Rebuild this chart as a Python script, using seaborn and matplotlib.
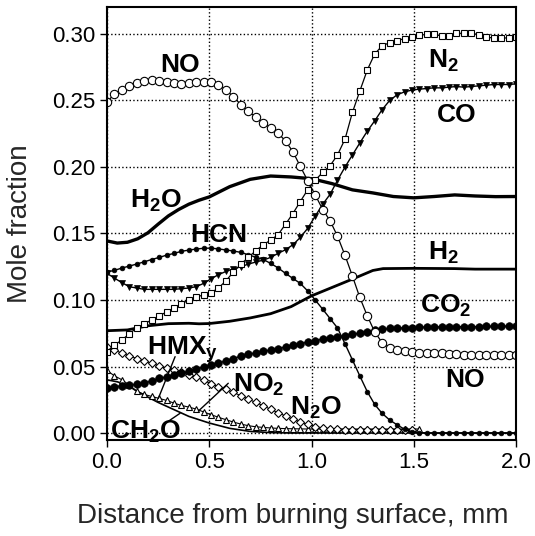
import matplotlib
matplotlib.use("Agg")
import matplotlib.pyplot as plt
import seaborn as sns

# distance from the burning surface, mm (marker positions)
distance = [0.000, 0.036, 0.073, 0.109, 0.145, 0.182, 0.218, 0.255, 0.291, 0.327,
            0.364, 0.400, 0.436, 0.473, 0.509, 0.545, 0.582, 0.618, 0.655, 0.691,
            0.727, 0.764, 0.800, 0.836, 0.873, 0.909, 0.945, 0.982, 1.018, 1.055,
            1.091, 1.127, 1.164, 1.200, 1.236, 1.273, 1.309, 1.345, 1.382, 1.418,
            1.455, 1.491, 1.527, 1.564, 1.600, 1.636, 1.673, 1.709, 1.745, 1.782,
            1.818, 1.855, 1.891, 1.927, 1.964, 2.000]

no = [0.249, 0.2547, 0.258, 0.261, 0.263, 0.2647, 0.2652, 0.265, 0.2642, 0.263,
      0.2622, 0.263, 0.2637, 0.264, 0.264, 0.2618, 0.258, 0.2528, 0.2468, 0.242,
      0.2375, 0.2333, 0.2295, 0.2255, 0.2195, 0.2115, 0.2005, 0.1895, 0.179, 0.168,
      0.1595, 0.148, 0.1335, 0.118, 0.102, 0.088, 0.076, 0.068, 0.064, 0.0625,
      0.0615, 0.061, 0.0605, 0.060, 0.060, 0.0598, 0.0595, 0.0592, 0.059, 0.059,
      0.0588, 0.0588, 0.0587, 0.0586, 0.0586, 0.0586]

n2 = [0.061, 0.066, 0.070, 0.0745, 0.079, 0.082, 0.085, 0.088, 0.091, 0.094,
      0.097, 0.100, 0.102, 0.104, 0.1055, 0.109, 0.1145, 0.121, 0.127, 0.132,
      0.137, 0.1415, 0.145, 0.149, 0.157, 0.165, 0.174, 0.183, 0.190, 0.196,
      0.201, 0.209, 0.221, 0.241, 0.257, 0.273, 0.285, 0.291, 0.2935, 0.295,
      0.2965, 0.298, 0.299, 0.2997, 0.2997, 0.2985, 0.2985, 0.3005, 0.3005, 0.3005,
      0.2995, 0.2975, 0.297, 0.297, 0.297, 0.2975]

co = [0.120, 0.1165, 0.113, 0.110, 0.109, 0.108, 0.108, 0.108, 0.108, 0.108,
      0.1085, 0.109, 0.110, 0.1125, 0.116, 0.119, 0.1215, 0.1235, 0.125, 0.127,
      0.1285, 0.130, 0.132, 0.135, 0.1378, 0.1415, 0.147, 0.154, 0.163, 0.172,
      0.1795, 0.190, 0.200, 0.209, 0.218, 0.227, 0.2347, 0.243, 0.250, 0.2542,
      0.2565, 0.2578, 0.2585, 0.259, 0.2595, 0.2595, 0.260, 0.2605, 0.260, 0.2605,
      0.261, 0.2615, 0.262, 0.262, 0.262, 0.2625]

hcn = [0.121, 0.1223, 0.124, 0.1255, 0.127, 0.1287, 0.1304, 0.132, 0.1337, 0.135,
       0.1366, 0.1375, 0.1383, 0.1389, 0.139, 0.1384, 0.1376, 0.1368, 0.1358, 0.134,
       0.1322, 0.1305, 0.1275, 0.1242, 0.120, 0.1162, 0.1125, 0.1067, 0.100, 0.093,
       0.086, 0.079, 0.067, 0.055, 0.043, 0.031, 0.0215, 0.0148, 0.0098, 0.0062,
       0.0028, 0.001, 0.0003, 0.0, 0.0, 0.0, 0.0, 0.0, 0.0, 0.0,
       0.0, 0.0, 0.0, 0.0, 0.0, 0.0]

co2 = [0.0336, 0.0347, 0.0356, 0.0361, 0.0366, 0.0377, 0.039, 0.041, 0.0422, 0.0435,
       0.045, 0.0465, 0.048, 0.0497, 0.051, 0.0525, 0.0543, 0.056, 0.0578, 0.0591,
       0.0603, 0.0615, 0.0624, 0.0633, 0.0647, 0.0661, 0.0672, 0.0683, 0.0695, 0.0706,
       0.0716, 0.0722, 0.0729, 0.0741, 0.0752, 0.0763, 0.0773, 0.0779, 0.0786, 0.0789,
       0.0791, 0.0793, 0.0795, 0.0796, 0.0797, 0.0798, 0.0798, 0.0799, 0.080, 0.080,
       0.080, 0.0801, 0.0801, 0.0802, 0.0802, 0.0802]

# open diamonds (first 42 positions)
n2o = [0.065, 0.0624, 0.060, 0.058, 0.056, 0.0543, 0.0524, 0.0505, 0.049, 0.0473,
       0.0455, 0.0437, 0.0418, 0.0396, 0.037, 0.0348, 0.0328, 0.0305, 0.028, 0.0255,
       0.023, 0.0205, 0.0178, 0.0153, 0.0128, 0.0104, 0.0083, 0.0064, 0.0048, 0.0038,
       0.0032, 0.0028, 0.0026, 0.0025, 0.0025, 0.0025, 0.0025, 0.0025, 0.0025, 0.0025,
       0.0025, 0.0025]

# open triangles (first 43 positions)
no2 = [0.047, 0.043, 0.040, 0.036, 0.0315, 0.029, 0.0275, 0.026, 0.0245, 0.0225,
       0.0207, 0.0195, 0.018, 0.0158, 0.0138, 0.0118, 0.010, 0.0082, 0.0067, 0.0055,
       0.0047, 0.0042, 0.0038, 0.0035, 0.0033, 0.0032, 0.0031, 0.003, 0.003, 0.003,
       0.003, 0.003, 0.003, 0.003, 0.003, 0.003, 0.003, 0.003, 0.003, 0.003,
       0.003, 0.003, 0.003]

# plain lines
h2o_x = [0.0, 0.05, 0.1, 0.15, 0.2, 0.25, 0.3, 0.35, 0.4, 0.45, 0.5, 0.6, 0.7,
         0.8, 0.9, 1.0, 1.1, 1.2, 1.3, 1.4, 1.5, 1.6, 1.7, 1.8, 1.9, 2.0]
h2o = [0.1444, 0.1428, 0.1434, 0.146, 0.1505, 0.157, 0.1632, 0.168, 0.172, 0.175,
       0.1775, 0.1852, 0.1907, 0.1932, 0.1925, 0.1912, 0.1875, 0.1828, 0.1805, 0.1778,
       0.1768, 0.1778, 0.179, 0.1782, 0.1777, 0.1778]

h2_x = [0.0, 0.1, 0.2, 0.3, 0.4, 0.45, 0.5, 0.6, 0.7, 0.8, 0.9, 1.0, 1.1, 1.2,
        1.3, 1.35, 1.5, 1.7, 1.8, 2.0]
h2 = [0.0769, 0.0775, 0.0806, 0.0822, 0.0825, 0.0821, 0.0823, 0.084, 0.0865, 0.0897,
      0.0950, 0.1031, 0.1094, 0.1157, 0.1222, 0.1236, 0.1238, 0.1236, 0.1232, 0.1232]

ch2o_x = [0.0, 0.05, 0.1, 0.15, 0.2, 0.25, 0.3, 0.35, 0.4, 0.5, 0.6, 0.7, 0.8,
          0.9, 1.0, 1.5, 2.0]
ch2o = [0.040, 0.0385, 0.036, 0.031, 0.027, 0.023, 0.0195, 0.016, 0.0125, 0.0075,
        0.0035, 0.0012, 0.0003, 0.0, 0.0, 0.0, 0.0]

sns.set_style("white")
plt.rcParams["font.family"] = ["Liberation Sans", "DejaVu Sans"]
plt.rcParams["mathtext.fontset"] = "custom"
plt.rcParams["mathtext.rm"] = "Liberation Sans:bold"
plt.rcParams["mathtext.default"] = "rm"

fig = plt.figure(figsize=(5.35, 5.36), dpi=100)
ax = fig.add_axes([0.2, 0.179, 0.7645, 0.808])


def curve(x, y, **kw):
    sns.lineplot(x=x, y=y, ax=ax, color="black", sort=False, estimator=None,
                 legend=False, **kw)


curve(h2o_x, h2o, linewidth=2.4)
curve(h2_x, h2, linewidth=2.0)
curve(ch2o_x, ch2o, linewidth=1.2)
curve(distance[:43], no2, linewidth=0.8, marker="^", markersize=5,
      markerfacecolor="white", markeredgecolor="black", markeredgewidth=0.8)
curve(distance[:42], n2o, linewidth=0.8, marker="D", markersize=4.3,
      markerfacecolor="white", markeredgecolor="black", markeredgewidth=0.8)
curve(distance, co2, linewidth=1.0, marker="o", markersize=5.5,
      markerfacecolor="black", markeredgecolor="black", markeredgewidth=0.5)
curve(distance, hcn, linewidth=1.0, marker="o", markersize=3.4,
      markerfacecolor="black", markeredgecolor="black", markeredgewidth=0.5)
curve(distance, co, linewidth=1.0, marker="v", markersize=4.5,
      markerfacecolor="black", markeredgecolor="black", markeredgewidth=0.5)
curve(distance, n2, linewidth=0.9, marker="s", markersize=5,
      markerfacecolor="white", markeredgecolor="black", markeredgewidth=0.8)
curve(distance, no, linewidth=0.9, marker="o", markersize=6,
      markerfacecolor="white", markeredgecolor="black", markeredgewidth=0.8)

ax.set_xlim(0, 2.0)
ax.set_ylim(-0.0053, 0.3203)
ax.set_xticks([0.0, 0.5, 1.0, 1.5, 2.0])
ax.set_xticklabels(["0.0", "0.5", "1.0", "1.5", "2.0"])
yt = [0.0, 0.05, 0.10, 0.15, 0.20, 0.25, 0.30]
ax.set_yticks(yt)
ax.set_yticklabels(["%.2f" % v for v in yt])
ax.grid(True, linestyle=":", color="black", linewidth=1.0)
ax.tick_params(direction="out", length=5, width=1, labelsize=16, colors="black",
               left=True, bottom=True)
for s in ax.spines.values():
    s.set_color("black")
    s.set_linewidth(1.5)
ax.set_xlabel("Distance from burning surface, mm", fontsize=20)
ax.xaxis.set_label_coords(0.4535, -0.145)
ax.set_ylabel("Mole fraction", fontsize=20)
ax.yaxis.set_label_coords(-0.181, 0.5)

lab = dict(fontsize=19, fontweight="bold", ha="left", va="baseline", color="black")
ax.text(0.259, 0.2714, "NO", **lab)
ax.text(1.571, 0.2742, "N$_2$", **lab)
ax.text(1.612, 0.2341, "CO", **lab)
ax.text(0.112, 0.169, "H$_2$O", **lab)
ax.text(0.406, 0.1438, "HCN", **lab)
ax.text(1.571, 0.130, "H$_2$", **lab)
ax.text(1.531, 0.090, "CO$_2$", **lab)
ax.text(1.653, 0.0348, "NO", **lab)
ax.text(0.194, 0.0586, "HMX$_y$", **lab)
ax.text(0.618, 0.031, "NO$_2$", **lab)
ax.text(0.895, 0.0135, "N$_2$O", **lab)
ax.text(0.015, -0.004, "CH$_2$O", **lab)

# leader lines
ax.plot([0.333, 0.251], [0.0574, 0.026], color="black", lw=1)
ax.plot([0.593, 0.447], [0.0374, 0.0165], color="black", lw=1)
ax.plot([0.292, 0.357], [0.008, 0.0148], color="black", lw=1)

fig.savefig("out.png", dpi=100)
